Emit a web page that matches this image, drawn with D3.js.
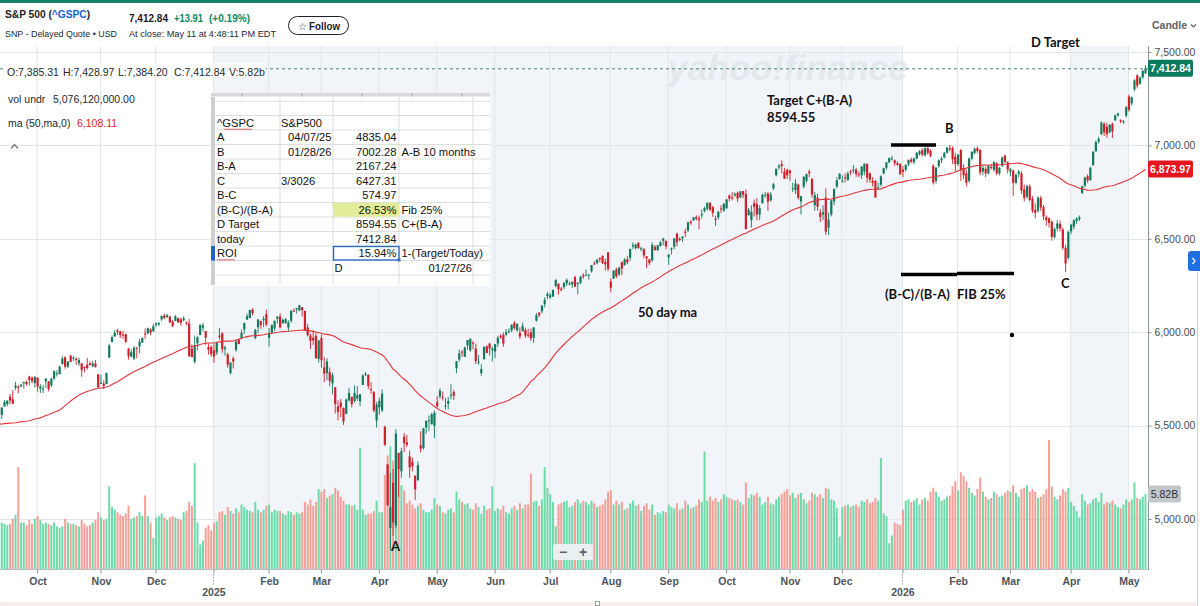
<!DOCTYPE html>
<html>
<head>
<meta charset="utf-8">
<title>S&amp;P 500 (^GSPC)</title>
<script src="https://cdn.jsdelivr.net/npm/d3@7/dist/d3.min.js"></script>
<style>
  html, body { margin:0; padding:0; background:#fff; overflow:hidden; }
  svg { display:block; }
</style>
</head>
<body>
<svg id="chart" width="1200" height="606" xmlns="http://www.w3.org/2000/svg"></svg>
<script>
// ================= DATA =================
// 49 closes before the first visible session (Jul 2 – Sep 10, 2024), used only to seed the 50-day MA
const maSeedCloses = [
 5509,5537,5567,5572,5577,5633,5585,5615,5631,5667,5589,5545,5505,5564,5556,5427,5399,5459,5464,5436,5522,
 5446,5347,5186,5240,5199,5319,5344,5344,5435,5455,5543,5554,5608,5597,5621,5571,5634,5616,5626,5592,5592,5648,
 5529,5520,5503,5408,5471,5496
];

// Daily sessions Sep 11, 2024 – May 11, 2026 (one line per month)
const open = [
 5496,5557,5603,5615,5655,5641,5703,5709,5711,5727,5733,5762,5755,5727,
 5757,5698,5699,5737,5737,5715,5751,5778,5775,5830,5866,5816,5875,5860,5857,5833,5834,5813,5826,5833,5819,5832,5775,
 5723,5725,5722,5864,5947,5977,6009,6004,5986,5989,5912,5870,5859,5918,5924,5944,5992,5993,6015,6004,
 6040,6042,6069,6090,6081,6083,6057,6060,6075,6068,6063,6053,6047,5913,5842,5940,5985,6024,6006,5920,5920,
 5903,5891,5982,5994,5910,5881,5782,5859,5906,5961,5969,6015,6068,6076,6121,5969,6027,6058,6064,6097,
 5970,5998,6021,6072,6084,6049,6050,6025,6061,6116,6122,6117,6134,6114,6026,5982,5970,5981,5857,
 5969,5812,5781,5786,5726,5705,5603,5624,5594,5563,5635,5654,5632,5646,5630,5718,5775,5771,5695,5679,5527,
 5598,5581,5493,5292,4953,5194,4966,5354,5255,5441,5411,5335,5306,5232,5207,5395,5381,5490,5529,5508,5499,
 5625,5656,5655,5606,5617,5660,5679,5807,5854,5896,5869,5929,5903,5944,5913,5841,5781,5855,5925,5939,5903,
 5897,5939,5978,5985,5987,6005,6010,6050,6010,5997,6005,6012,5987,5999,5970,6062,6104,6112,6150,6193,
 6187,6191,6247,6259,6233,6241,6262,6256,6255,6295,6259,6264,6305,6304,6307,6326,6368,6370,6397,6409,6377,6428,
 6271,6287,6336,6310,6374,6360,6390,6398,6459,6451,6478,6445,6444,6406,6390,6385,6457,6440,6461,6489,6489,
 6401,6441,6457,6527,6499,6502,6538,6544,6592,6599,6616,6609,6625,6649,6661,6693,6669,6607,6615,6662,6651,
 6664,6731,6722,6733,6746,6723,6755,6740,6626,6600,6690,6686,6630,6690,6735,6743,6705,6770,6840,6882,6900,6860,6870,
 6865,6770,6760,6790,6700,6780,6810,6860,6820,6680,6720,6640,6630,6720,6560,6630,6700,6780,6820,
 6810,6830,6815,6860,6865,6870,6845,6840,6860,6900,6850,6810,6810,6770,6790,6850,6880,6910,6930,6920,6905,6900,
 6870,6870,6898,6925,6910,6930,6955,6975,6948,6985,6970,6890,6810,6890,6920,6935,6960,6985,6985,6940,
 6900,6975,6880,6850,6810,6930,6960,6985,6975,6860,6875,6850,6885,6870,6905,6850,6890,6945,6910,
 6860,6865,6800,6848,6850,6765,6725,6780,6715,6655,6650,6718,6670,6615,6610,6590,6510,6555,6580,6550,6450,6398,
 6540,6565,6595,6605,6745,6785,6835,6815,6895,6970,7020,7060,7115,7100,7070,7115,7135,7160,7135,7125,7160,
 7262,7225,7300,7375,7330,7365,7385.31
];
const high = [
 5560,5600,5636,5636,5670,5690,5734,5716,5725,5735,5742,5767,5764,5763,
 5757,5723,5718,5754,5739,5756,5796,5796,5822,5871,5871,5843,5879,5872,5866,5863,5835,5817,5862,5843,5847,5851,5776,
 5772,5742,5783,5936,5983,6012,6018,6009,6008,5993,5915,5909,5925,5920,5964,5972,6020,6025,6021,6045,
 6053,6053,6089,6099,6099,6088,6065,6092,6079,6078,6085,6058,6071,5935,5982,5978,6041,6050,6007,5941,5930,
 5935,5950,6022,6000,5928,5890,5841,5870,5961,5965,6014,6051,6100,6118,6128,6018,6069,6063,6086,6121,
 6022,6042,6062,6084,6101,6073,6076,6063,6116,6127,6130,6147,6134,6115,6044,5992,6009,5994,5959,
 5987,5866,5860,5812,5783,5706,5636,5642,5597,5645,5703,5654,5715,5711,5670,5775,5787,5777,5732,5685,5627,
 5650,5695,5500,5292,5247,5268,5482,5354,5381,5460,5450,5367,5329,5232,5309,5470,5486,5528,5554,5568,5581,
 5658,5700,5683,5649,5654,5721,5691,5846,5906,5904,5924,5958,5968,5953,5939,5878,5829,5923,5930,5943,5922,
 5937,5981,5990,5999,6017,6021,6043,6060,6045,6026,6051,6024,6018,6019,6028,6102,6108,6146,6187,6215,
 6210,6227,6284,6262,6242,6269,6288,6271,6272,6303,6268,6301,6316,6336,6310,6360,6381,6390,6401,6410,6394,6428,
 6288,6330,6346,6351,6379,6396,6407,6446,6481,6474,6482,6458,6451,6408,6393,6481,6466,6468,6488,6503,6490,
 6416,6453,6503,6533,6508,6513,6555,6592,6600,6616,6626,6624,6657,6672,6694,6695,6676,6623,6650,6680,6690,
 6713,6738,6750,6749,6753,6755,6757,6764,6665,6680,6711,6719,6680,6742,6752,6750,6750,6800,6875,6900,6920,6880,6875,
 6870,6800,6820,6795,6730,6835,6850,6870,6825,6750,6740,6660,6680,6770,6640,6710,6770,6830,6850,
 6840,6850,6860,6870,6895,6880,6860,6890,6905,6905,6855,6830,6815,6800,6840,6880,6910,6935,6945,6925,6915,6905,
 6890,6900,6925,6935,6935,6965,6975,6985,6990,6995,6980,6900,6885,6925,6940,6965,6992,7002.28,6995,6960,
 6955,6980,6900,6870,6935,6970,6990,6995,6980,6890,6885,6895,6900,6915,6910,6885,6940,6950,6915,
 6880,6870,6850,6870,6862,6790,6790,6792,6728,6690,6728,6730,6680,6625,6615,6600,6560,6600,6598,6560,6468,6545,
 6580,6605,6615,6625,6785,6832,6845,6885,6970,7025,7045,7128,7125,7122,7115,7122,7165,7175,7140,7135,7210,
 7272,7262,7355,7380,7370,7404,7428.97
];
const low = [
 5406,5535,5601,5604,5614,5615,5690,5674,5705,5698,5714,5715,5727,5703,
 5681,5675,5674,5701,5683,5707,5746,5763,5775,5826,5804,5808,5840,5846,5824,5820,5762,5784,5799,5823,5812,5811,5702,
 5723,5696,5722,5864,5947,5976,5986,5969,5965,5942,5853,5865,5850,5860,5888,5944,5963,5991,5985,6004,
 6027,6033,6061,6071,6077,6048,6027,6060,6051,6035,6059,6036,5868,5866,5832,5903,5983,6004,5932,5880,5868,
 5835,5878,5960,5890,5874,5809,5773,5806,5895,5935,5962,5990,6066,6075,6088,5962,5995,6018,6028,6031,
 5923,5990,6007,6046,6020,6044,6044,6003,6051,6107,6100,6112,6085,6008,5977,5909,5932,5858,5837,
 5810,5733,5743,5711,5667,5565,5529,5546,5504,5563,5629,5597,5622,5632,5603,5718,5764,5694,5670,5572,5489,
 5558,5572,5391,5069,4835,4910,4950,5116,5221,5359,5386,5220,5255,5102,5207,5356,5371,5456,5470,5505,5433,
 5597,5644,5634,5586,5587,5640,5637,5781,5842,5868,5867,5907,5895,5909,5830,5826,5767,5855,5886,5875,5843,
 5861,5922,5966,5921,5978,5994,6000,6013,6003,5963,6005,5969,5971,5952,5943,6056,6080,6101,6133,6177,
 6178,6188,6241,6201,6218,6231,6247,6251,6237,6242,6202,6257,6286,6303,6281,6319,6360,6363,6375,6365,6330,6327,
 6213,6286,6289,6301,6305,6356,6364,6383,6445,6441,6447,6433,6396,6343,6360,6377,6438,6435,6458,6465,6444,
 6360,6416,6445,6460,6487,6483,6510,6537,6575,6596,6598,6551,6609,6641,6651,6648,6618,6569,6604,6638,6645,
 6660,6700,6706,6725,6697,6718,6717,6550,6626,6560,6619,6600,6600,6690,6720,6650,6700,6760,6835,6870,6850,6820,6820,
 6810,6750,6740,6710,6630,6770,6800,6830,6720,6650,6650,6590,6600,6520,6520,6620,6680,6770,6815,
 6800,6800,6810,6840,6850,6830,6830,6820,6840,6800,6800,6780,6720,6760,6780,6845,6870,6905,6920,6890,6890,6845,
 6830,6860,6890,6905,6900,6925,6945,6940,6940,6950,6935,6790,6795,6880,6905,6930,6955,6968,6900,6860,
 6890,6810,6820,6780,6800,6920,6950,6960,6840,6840,6830,6845,6870,6860,6840,6840,6885,6905,6850,
 6835,6730,6790,6830,6740,6700,6715,6700,6640,6610,6640,6650,6600,6570,6560,6490,6500,6540,6540,6440,6322,6390,
 6525,6550,6580,6595,6740,6775,6800,6810,6890,6965,7010,7055,7050,7040,7065,7040,7130,7155,7118,7115,7150,
 7180,7215,7290,7305,7325,7355,7384.20
];
const close = [
 5554,5596,5626,5633,5634,5618,5714,5703,5719,5733,5722,5745,5738,5762,
 5709,5710,5699,5751,5696,5751,5792,5780,5815,5859,5815,5843,5841,5864,5853,5851,5797,5809,5808,5824,5833,5813,5705,
 5729,5712,5782,5929,5973,5996,6001,5984,5985,5949,5871,5893,5917,5917,5949,5969,5987,6021,5999,6032,
 6047,6050,6087,6075,6090,6053,6034,6085,6052,6051,6074,6051,5872,5867,5931,5974,6040,6037,5971,5907,5882,
 5869,5942,5975,5909,5918,5827,5837,5843,5950,5937,5997,6049,6086,6119,6101,6012,6068,6039,6071,6041,
 5995,6038,6061,6084,6026,6066,6069,6052,6115,6115,6129,6144,6118,6013,5984,5955,5956,5861,5955,
 5850,5778,5843,5739,5770,5615,5572,5599,5522,5639,5675,5615,5675,5663,5668,5768,5777,5712,5693,5581,5612,
 5633,5671,5397,5074,5062,4982,5457,5268,5363,5406,5397,5276,5283,5158,5288,5376,5485,5525,5529,5561,5569,
 5604,5687,5650,5607,5631,5664,5660,5844,5887,5892,5917,5958,5964,5940,5845,5842,5803,5922,5889,5913,5912,
 5936,5970,5971,5939,6000,6006,6039,6022,6045,5977,6033,5982,5981,5967,6025,6092,6092,6141,6173,6205,
 6198,6227,6279,6230,6226,6263,6280,6260,6269,6244,6264,6297,6297,6306,6309,6359,6363,6389,6390,6371,6363,6339,
 6238,6330,6299,6345,6340,6389,6374,6446,6466,6469,6450,6449,6411,6396,6370,6467,6439,6465,6481,6502,6460,
 6416,6448,6502,6482,6495,6512,6532,6587,6584,6615,6607,6600,6632,6664,6693,6656,6638,6605,6644,6661,6688,
 6711,6715,6716,6740,6715,6754,6735,6553,6655,6644,6671,6630,6664,6735,6736,6699,6738,6792,6875,6891,6890,6822,6840,
 6852,6771,6796,6720,6728,6832,6846,6851,6737,6734,6672,6617,6642,6538,6603,6705,6766,6813,6849,
 6812,6829,6850,6857,6870,6846,6840,6886,6901,6827,6816,6800,6721,6775,6834,6878,6909,6932,6930,6905,6896,6845,
 6858,6895,6922,6912,6930,6960,6968,6950,6985,6960,6945,6800,6880,6920,6930,6960,6988,6978,6925,6900,
 6950,6868,6840,6800,6930,6965,6982,6970,6855,6880,6850,6890,6880,6910,6850,6880,6935,6912,6870,
 6872,6800,6842,6860,6758,6718,6782,6708,6650,6640,6720,6668,6620,6600,6585,6510,6552,6582,6555,6452,6368,6538,
 6575,6598,6608,6615,6780,6828,6812,6880,6965,7018,7035,7122,7070,7060,7110,7075,7160,7170,7128,7130,7205,
 7190,7258,7348,7320,7362,7398.93,7412.84
];
// volume, billions of shares
const volume = [
 4.0,3.6,3.5,3.4,3.5,3.9,4.2,7.9,3.6,3.6,3.4,3.8,3.5,3.9,
 4.1,3.8,3.5,3.6,3.5,3.4,3.6,3.3,3.2,3.3,3.9,3.6,3.5,3.5,3.4,3.3,3.8,3.5,3.3,3.4,3.6,3.8,4.4,
 4.0,3.8,3.9,6.4,4.8,4.6,4.4,4.2,4.1,4.3,4.9,3.9,4.0,4.1,4.4,4.1,5.7,4.1,3.6,2.4,
 4.0,4.1,4.3,4.0,3.8,4.0,4.1,4.0,3.9,3.8,4.4,4.5,5.2,4.9,8.2,3.6,1.9,2.2,3.2,3.4,3.0,
 3.6,3.7,4.4,4.5,4.2,4.8,4.5,4.3,4.7,4.4,5.0,4.8,4.6,4.5,4.4,5.2,4.6,4.4,4.6,4.9,
 5.0,4.4,4.6,4.5,4.5,4.3,4.2,4.5,4.4,4.2,4.4,4.3,4.4,5.2,5.0,5.4,4.9,5.2,6.2,
 6.0,6.2,5.5,5.7,5.8,6.3,6.1,5.6,5.3,5.0,5.0,4.9,5.0,4.6,9.4,4.6,4.2,4.3,4.3,4.5,5.3,
 4.4,4.4,7.3,8.8,9.5,8.4,9.2,7.8,6.5,6.1,5.1,5.3,5.0,4.7,4.9,5.1,4.6,4.4,4.4,4.6,5.5,
 5.0,4.9,4.4,4.3,4.6,4.7,4.4,6.0,5.4,5.2,5.0,5.1,4.7,4.6,5.1,4.8,4.3,4.9,4.6,4.7,6.4,
 4.5,4.7,4.6,4.9,4.4,4.3,4.7,4.9,4.6,5.1,4.7,5.0,5.0,7.4,5.2,5.3,4.9,5.4,7.9,6.3,
 5.8,5.2,3.3,5.0,5.1,5.2,5.3,4.8,4.9,5.2,5.4,5.1,5.3,5.2,5.0,5.3,5.1,4.8,4.9,5.0,5.4,6.0,
 6.1,5.0,5.3,5.0,5.2,4.6,4.7,5.1,5.3,4.9,5.0,4.5,4.9,5.1,4.6,5.0,4.2,4.4,4.3,4.5,4.4,
 5.0,4.8,4.7,5.1,4.6,4.7,5.3,5.0,4.7,4.8,4.9,5.4,5.2,9.1,5.3,5.6,5.3,5.5,5.2,5.4,5.8,
 5.6,5.5,5.4,5.3,5.4,5.2,5.0,6.7,5.5,5.8,5.7,5.9,5.6,5.0,5.2,5.6,5.1,5.0,5.4,5.6,5.8,6.0,6.2,
 5.7,5.9,5.5,5.8,5.9,5.4,5.1,5.3,5.9,5.8,5.6,5.8,5.5,6.3,6.2,5.4,5.3,4.7,2.5,
 4.8,4.9,5.0,4.8,4.9,5.0,4.8,5.3,5.2,5.4,5.1,5.2,5.5,5.3,8.6,4.3,4.1,2.0,2.6,3.6,3.5,3.4,
 4.6,5.3,5.4,5.2,5.3,5.5,5.0,5.4,5.5,5.3,6.0,6.3,6.0,5.6,5.3,5.4,5.6,5.7,6.4,6.8,
 6.1,7.5,7.2,6.8,6.3,5.9,5.7,6.2,7.1,6.0,5.6,5.4,5.5,6.0,5.8,5.6,5.7,5.9,6.1,
 6.0,6.5,5.9,5.6,6.2,6.3,6.5,6.0,6.2,6.0,5.5,5.6,5.8,6.2,10.0,6.4,5.6,5.4,5.7,6.2,6.0,6.3,
 5.2,4.9,4.5,4.0,5.8,5.3,5.0,5.1,5.4,5.5,5.2,5.9,5.0,5.2,5.1,5.3,5.0,4.8,4.7,5.0,5.4,
 5.2,5.4,6.7,5.5,5.4,5.6,5.82
];

// x-axis: first session of each month (index into the arrays above)
const monthTickIndex  = [14,37,57,78,98,117,138,159,180,200,222,243,264,287,306,328,348,367,389,410];
const monthTickLabels = ["Oct","Nov","Dec","","Feb","Mar","Apr","May","Jun","Jul","Aug","Sep","Oct","Nov","Dec","","Feb","Mar","Apr","May"];
const yearTickIndex  = [78, 328];
const yearTickLabels = ["2025", "2026"];
const shadedSpans = [[78, 328], [389, 410]];
const priceTicks = [5000, 5500, 6000, 6500, 7000, 7500];

// quote header
const lastPrice = 7412.84, lastChange = "+13.91", lastChangePct = "(+0.19%)";
const ohlcLabels = ["O:7,385.31", "H:7,428.97", "L:7,384.20", "C:7,412.84", "V:5.82b"];
const maLastValue = 6873.97, volLastLabel = "5.82B", volLastValue = 5.82;

// pasted spreadsheet
const sheetColA = ["^GSPC","A","B","B-A","C","B-C","(B-C)/(B-A)","D Target","today","ROI",""];
const sheetColB = ["S&P500","04/07/25","01/28/26","","3/3026","","","","","",""];
const sheetColC = ["","4835.04","7002.28","2167.24","6427.31","574.97","26.53%","8594.55","7412.84","15.94%","D"];
const sheetColD = ["","","A-B 10 months","","","","Fib 25%","C+(B-A)","","1-(Target/Today)","01/27/26"];

// ================= DRAWING =================
const FONT = '"Liberation Sans", Arial, Helvetica, sans-serif';
const ANNO = 'Lato, "Open Sans", "Noto Sans", sans-serif';
const W = 1200, H = 606;
const PL = 0, PR = 1148, PT = 46, PB = 569;
const n = close.length;

const svg = d3.select("#chart");
const x  = d3.scaleLinear().domain([0, n - 1]).range([-1, 1145.5]);
const y  = d3.scaleLinear().domain([5000, 7500]).range([519, 52]);
const yv = d3.scaleLinear().domain([0, 10]).range([PB, PB - 129]);

svg.append("rect").attr("width", W).attr("height", H).attr("fill", "#fff");
svg.append("defs").append("clipPath").attr("id", "plotClip")
  .append("rect").attr("x", PL).attr("y", PT).attr("width", PR - PL).attr("height", PB - PT);
const plot = svg.append("g").attr("clip-path", "url(#plotClip)");

// shaded spans
plot.selectAll("rect.shade").data(shadedSpans).join("rect").attr("class", "shade")
  .attr("x", d => x(d[0]) - 1.2).attr("width", d => x(d[1]) - x(d[0]))
  .attr("y", PT).attr("height", PB - PT).attr("fill", "#f1f4f8");

// grid
plot.selectAll("line.vg").data(monthTickIndex).join("line").attr("class", "vg")
  .attr("x1", d => x(d) - 0.5).attr("x2", d => x(d) - 0.5).attr("y1", PT).attr("y2", PB)
  .attr("stroke", "#e2e5e9").attr("stroke-width", 1);
plot.selectAll("line.hg").data(priceTicks).join("line").attr("class", "hg")
  .attr("x1", PL).attr("x2", PR).attr("y1", d => Math.round(y(d)) + 0.5).attr("y2", d => Math.round(y(d)) + 0.5)
  .attr("stroke", "#e2e5e9").attr("stroke-width", 1);

// watermark
plot.append("text").attr("x", 668).attr("y", 80).attr("font-family", FONT).attr("font-size", 35)
  .attr("font-weight", "bold").attr("font-style", "italic").attr("fill", "#e4e7eb")
  .attr("textLength", 240).attr("lengthAdjust", "spacingAndGlyphs").text("yahoo!finance");

const idx = d3.range(n);
const isUp = i => close[i] >= open[i];

// volume
plot.append("g").selectAll("rect").data(idx).join("rect")
  .attr("x", i => x(i) - 1).attr("width", 2)
  .attr("y", i => yv(volume[i])).attr("height", i => yv(0) - yv(volume[i]))
  .attr("fill", i => isUp(i) ? "#6ddba9" : "#f59f98");

// candles
const cg = plot.append("g");
cg.selectAll("line").data(idx).join("line")
  .attr("x1", i => x(i)).attr("x2", i => x(i))
  .attr("y1", i => y(high[i])).attr("y2", i => y(low[i]))
  .attr("stroke", i => isUp(i) ? "#127a5c" : "#cf1f2b").attr("stroke-width", 0.9);
cg.selectAll("rect").data(idx).join("rect")
  .attr("x", i => x(i) - 1.1).attr("width", 2.2)
  .attr("y", i => y(Math.max(open[i], close[i])))
  .attr("height", i => Math.max(1, Math.abs(y(open[i]) - y(close[i]))))
  .attr("fill", i => isUp(i) ? "#127a5c" : "#cf1f2b");

// 50-day moving average
const allCloses = maSeedCloses.concat(close);
const ma = idx.map(i => d3.mean(allCloses.slice(i, i + 50)));
plot.append("path").datum(idx)
  .attr("d", d3.line().x(i => x(i)).y(i => y(ma[i])))
  .attr("fill", "none").attr("stroke", "#e3363c").attr("stroke-width", 1.1);

// last price dashed line
plot.append("line").attr("x1", PL).attr("x2", PR)
  .attr("y1", y(lastPrice) + 0.5).attr("y2", y(lastPrice) + 0.5)
  .attr("stroke", "#3f8a74").attr("stroke-width", 1).attr("stroke-dasharray", "3,3");

// info lines
const info = svg.append("g").attr("font-family", FONT).attr("font-size", 10.5).attr("fill", "#232a31");
info.append("rect").attr("x", 6).attr("y", 63).attr("width", 260).attr("height", 14).attr("fill", "#fff");
const ohlcX = [7, 63, 118, 174, 229];
ohlcLabels.forEach((t, i) => info.append("text").attr("x", ohlcX[i]).attr("y", 76).text(t));
info.append("text").attr("x", 8).attr("y", 103).text("vol undr");
info.append("text").attr("x", 53).attr("y", 103).text("5,076,120,000.00");
info.append("text").attr("x", 8).attr("y", 127).text("ma (50,ma,0)");
info.append("text").attr("x", 77).attr("y", 127).attr("fill", "#e0251b").text("6,108.11");
info.append("path").attr("d", "M11,148.5 L14.5,144.5 L18,148.5").attr("fill", "none")
  .attr("stroke", "#6e767e").attr("stroke-width", 1.2);

// ----- spreadsheet overlay -----
const sh = svg.append("g").attr("font-family", FONT).attr("font-size", 11.2).attr("fill", "#111");
sh.append("rect").attr("x", 211).attr("y", 93).attr("width", 279).attr("height", 193).attr("fill", "#fff");
sh.append("rect").attr("x", 211).attr("y", 93).attr("width", 279).attr("height", 3.5).attr("fill", "#d9d9d9");
[242, 302, 362, 412, 462].forEach(tx => sh.append("line").attr("x1", tx).attr("x2", tx).attr("y1", 93).attr("y2", 96.5).attr("stroke", "#a9a9a9"));
const rowTop = k => 115.5 + 14.5 * k;
const colLines = [280, 333, 399, 473];
sh.append("line").attr("x1", 215).attr("x2", 490).attr("y1", 101.5).attr("y2", 101.5).attr("stroke", "#e3e3e3");
d3.range(12).forEach(k => sh.append("line").attr("x1", 215).attr("x2", 490)
  .attr("y1", rowTop(k)).attr("y2", rowTop(k)).attr("stroke", "#d6d6d6").attr("stroke-width", 0.8));
colLines.forEach(cx => sh.append("line").attr("x1", cx).attr("x2", cx).attr("y1", 97).attr("y2", 284)
  .attr("stroke", "#d6d6d6").attr("stroke-width", 0.8));
sh.append("rect").attr("x", 211).attr("y", 97).attr("width", 4).attr("height", 188).attr("fill", "#cfcfcf");
sh.append("rect").attr("x", 211).attr("y", rowTop(9)).attr("width", 4).attr("height", 14.5).attr("fill", "#2463c4");
sh.append("rect").attr("x", 333).attr("y", rowTop(6) + 0.4).attr("width", 66).attr("height", 13.8).attr("fill", "#e3ec98");
sh.append("rect").attr("x", 333.5).attr("y", rowTop(9) + 0.5).attr("width", 65.5).attr("height", 13.5)
  .attr("fill", "none").attr("stroke", "#2f6cc6").attr("stroke-width", 1.4);
sh.append("rect").attr("x", 397.5).attr("y", rowTop(10) - 2).attr("width", 3).attr("height", 3).attr("fill", "#2f6cc6");
const base = k => rowTop(k) + 11.2;
const isDate = t => /^\d+\/\d+\/\d+$/.test(t);
sheetColA.forEach((t, k) => t && sh.append("text").attr("x", 217).attr("y", base(k)).text(t));
sheetColB.forEach((t, k) => {
  if (!t) return;
  const left = /[A-Za-z]/.test(t) || t === "3/3026";
  sh.append("text").attr("x", left ? 281 : 331.5).attr("text-anchor", left ? "start" : "end").attr("y", base(k)).text(t);
});
sheetColC.forEach((t, k) => {
  if (!t) return;
  const left = t === "D";
  sh.append("text").attr("x", left ? 334.5 : 396.5).attr("text-anchor", left ? "start" : "end").attr("y", base(k)).text(t);
});
sheetColD.forEach((t, k) => {
  if (!t) return;
  const right = isDate(t);
  sh.append("text").attr("x", right ? 472 : 401.5).attr("text-anchor", right ? "end" : "start").attr("y", base(k)).text(t);
});
function squiggle(x0, x1, yy) {
  let d = `M${x0},${yy}`;
  for (let xx = x0; xx < x1; xx += 2) d += ` L${xx + 1},${yy + 1.2} L${xx + 2},${yy}`;
  sh.append("path").attr("d", d).attr("fill", "none").attr("stroke", "#e03030").attr("stroke-width", 0.7);
}
squiggle(224, 252, base(0) + 2);
squiggle(217, 234, base(9) + 2);

// ----- annotations -----
const an = svg.append("g").attr("font-family", ANNO).attr("font-weight", "bold").attr("font-size", 13).attr("fill", "#111");
an.append("text").attr("x", 1031).attr("y", 47).text("D Target");
an.append("text").attr("x", 767).attr("y", 105).text("Target C+(B-A)");
an.append("text").attr("x", 767).attr("y", 122).text("8594.55");
an.append("text").attr("x", 945).attr("y", 133).text("B");
an.append("text").attr("x", 885).attr("y", 299).text("(B-C)/(B-A)");
an.append("text").attr("x", 957).attr("y", 299).text("FIB 25%");
an.append("text").attr("x", 1061).attr("y", 288).text("C");
an.append("text").attr("x", 638).attr("y", 317).text("50 day ma");
an.append("text").attr("x", 391).attr("y", 551).text("A");
an.append("line").attr("x1", 891).attr("x2", 936).attr("y1", 145).attr("y2", 145).attr("stroke", "#000").attr("stroke-width", 3.5);
an.append("line").attr("x1", 901).attr("x2", 957).attr("y1", 274.5).attr("y2", 274.5).attr("stroke", "#000").attr("stroke-width", 3.5);
an.append("line").attr("x1", 957).attr("x2", 1014).attr("y1", 273.5).attr("y2", 273.5).attr("stroke", "#000").attr("stroke-width", 3.5);
an.append("circle").attr("cx", 1012).attr("cy", 335).attr("r", 2.2).attr("fill", "#000");

// zoom buttons
const zb = svg.append("g");
zb.append("rect").attr("x", 553).attr("y", 544).attr("width", 40).attr("height", 16).attr("rx", 2).attr("fill", "#eef0f3").attr("opacity", 0.95);
zb.append("text").attr("x", 563).attr("y", 557).attr("text-anchor", "middle").attr("font-family", FONT).attr("font-size", 14).attr("font-weight", "bold").attr("fill", "#5b636a").text("−");
zb.append("text").attr("x", 583).attr("y", 557).attr("text-anchor", "middle").attr("font-family", FONT).attr("font-size", 14).attr("font-weight", "bold").attr("fill", "#5b636a").text("+");

// ----- axes -----
svg.append("line").attr("x1", PR + 0.5).attr("x2", PR + 0.5).attr("y1", PT).attr("y2", PB + 1).attr("stroke", "#8b9299");
svg.append("line").attr("x1", PL).attr("x2", PR).attr("y1", PB + 0.5).attr("y2", PB + 0.5).attr("stroke", "#b8bec4");

const gy = svg.append("g").attr("transform", `translate(${PR + 0.5},0)`)
  .call(d3.axisRight(y).tickValues(priceTicks).tickFormat(d3.format(",.2f")).tickSize(3).tickPadding(3));
gy.select(".domain").remove();
gy.attr("font-family", FONT).attr("font-size", 10.5);
gy.selectAll(".tick line").attr("stroke", "#8b9299");
gy.selectAll(".tick text").attr("fill", "#464e56");

const gx = svg.append("g").attr("transform", `translate(0,${PB + 0.5})`)
  .call(d3.axisBottom(x).tickValues(monthTickIndex).tickFormat((d, i) => monthTickLabels[i]).tickSize(4).tickPadding(4));
gx.select(".domain").remove();
gx.attr("font-family", FONT).attr("font-size", 10.5).attr("font-weight", "bold");
gx.selectAll(".tick line").attr("stroke", "#8b9299").attr("transform", "translate(-0.5,0)");
gx.selectAll(".tick text").attr("fill", "#4d555c");
yearTickIndex.forEach((d, i) => {
  svg.append("line").attr("x1", x(d) - 0.5).attr("x2", x(d) - 0.5).attr("y1", PB + 5).attr("y2", PB + 17)
    .attr("stroke", "#9aa1a8").attr("stroke-dasharray", "1.5,1.5");
  svg.append("text").attr("x", x(d)).attr("y", PB + 27).attr("text-anchor", "middle")
    .attr("font-family", FONT).attr("font-size", 10.5).attr("font-weight", "bold").attr("fill", "#4d555c").text(yearTickLabels[i]);
});

// price badges
function badge(cy, w, fill, txt, color, weight) {
  svg.append("rect").attr("x", PR).attr("y", cy - 8.5).attr("width", w).attr("height", 17).attr("rx", 2).attr("fill", fill);
  svg.append("text").attr("x", PR + w / 2).attr("y", cy + 4).attr("text-anchor", "middle")
    .attr("font-family", FONT).attr("font-size", 10.5).attr("font-weight", weight).attr("fill", color).text(txt);
}
badge(y(lastPrice), 45, "#0c7a5c", d3.format(",.2f")(lastPrice), "#fff", "bold");
badge(y(maLastValue), 45, "#e5161d", d3.format(",.2f")(maLastValue), "#fff", "bold");
badge(yv(volLastValue), 33, "#c2c7cc", volLastLabel, "#2c3238", "normal");

// right edge
svg.append("line").attr("x1", 1197.5).attr("x2", 1197.5).attr("y1", 272).attr("y2", 606).attr("stroke", "#c9d3e3");
svg.append("path").attr("d", "M1200,251 L1191,251 Q1188,251 1188,254 L1188,268 Q1188,271 1191,271 L1200,271 Z").attr("fill", "#1f6fe0");
svg.append("path").attr("d", "M1192.5,258 L1195,261 L1192.5,264").attr("fill", "none").attr("stroke", "#fff").attr("stroke-width", 1.2);

// bottom scroller strip
svg.append("rect").attr("x", 0).attr("y", 603).attr("width", 1196).attr("height", 3).attr("fill", "#fbf1f1").attr("stroke", "#f0d6d6").attr("stroke-width", 0.6);
svg.append("rect").attr("x", 595.5).attr("y", 601.5).attr("width", 4).attr("height", 4).attr("fill", "#fff").attr("stroke", "#888").attr("stroke-width", 0.8);

// ----- header -----
svg.append("rect").attr("x", 0).attr("y", 0).attr("width", W).attr("height", 3).attr("fill", "#12806a");
const hdr = svg.append("g").attr("font-family", FONT);
function htext(xp, yp, txt, len, size, weight, fill) {
  return hdr.append("text").attr("x", xp).attr("y", yp).attr("font-size", size).attr("font-weight", weight)
    .attr("fill", fill).attr("textLength", len).attr("lengthAdjust", "spacingAndGlyphs").text(txt);
}
const title = hdr.append("text").attr("x", 5).attr("y", 18).attr("font-size", 10.2).attr("font-weight", "bold").attr("fill", "#1d2228");
title.append("tspan").text("S&P 500 (");
title.append("tspan").attr("fill", "#1a5fd6").text("^GSPC");
title.append("tspan").text(")");
htext(5, 37, "SNP - Delayed Quote • USD", 112, 9.5, "normal", "#232a31");
htext(129, 22, d3.format(",.2f")(lastPrice), 39, 11, "bold", "#1d2228");
htext(174, 22, lastChange, 29, 11, "bold", "#0a8a5e");
htext(209, 22, lastChangePct, 41, 11, "bold", "#0a8a5e");
htext(129, 37, "At close: May 11 at 4:48:11 PM EDT", 147, 9.5, "normal", "#232a31");
hdr.append("rect").attr("x", 288.5).attr("y", 16.5).attr("width", 60).attr("height", 18).attr("rx", 9).attr("fill", "#fff").attr("stroke", "#1d2228");
hdr.append("text").attr("x", 298).attr("y", 29.5).attr("font-family", '"DejaVu Sans", sans-serif').attr("font-size", 10).attr("fill", "#1d2228").text("☆");
htext(309, 29.5, "Follow", 31, 11, "bold", "#1d2228");
hdr.append("text").attr("x", 1152).attr("y", 29).attr("font-size", 10.5).attr("font-weight", "bold").attr("fill", "#5b636a").text("Candle");
hdr.append("path").attr("d", "M1191,24.5 L1193.5,27 L1196,24.5").attr("fill", "none").attr("stroke", "#5b636a").attr("stroke-width", 1.2);

// sanity check on data lengths
const lens = [open.length, high.length, low.length, close.length, volume.length];
if (new Set(lens).size !== 1 || lens[0] !== 417 || maSeedCloses.length !== 49) {
  svg.append("text").attr("x", 600).attr("y", 300).attr("fill", "red").attr("font-size", 20)
    .text("LEN " + lens.join(",") + " seed " + maSeedCloses.length);
}
</script>
</body>
</html>
